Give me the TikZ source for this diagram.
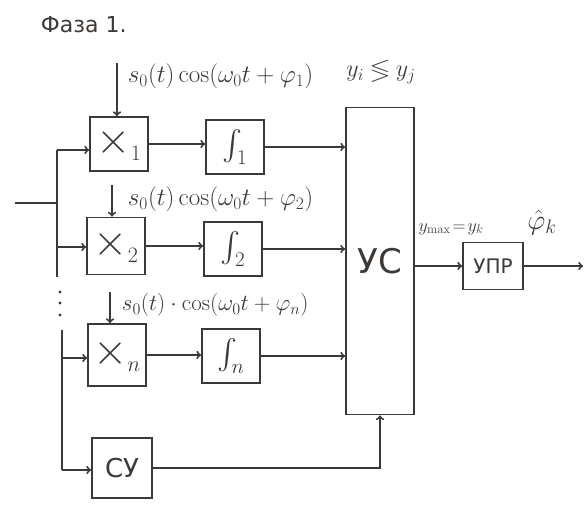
\RequirePackage{fix-cm}
\documentclass[tikz,border=0pt]{standalone}
\usepackage{amsmath,amssymb}
\usepackage[no-math]{fontspec}
\setmainfont{DejaVu Sans}
\usepackage{tikz}
\definecolor{SchemeInk}{HTML}{3D3936}
\definecolor{SchemePaper}{HTML}{FFFFFF}

\begin{document}
\begin{tikzpicture}[x=1pt,y=-1pt,SchemeInk,line width=1.9pt,
    block/.style={draw,inner sep=0pt,minimum width=58pt,minimum height=54pt,
      font=\fontsize{26}{28}\selectfont},
    sig/.style={->},
    lbl/.style={inner sep=0pt,font=\fontsize{25}{28}\selectfont}]
      \useasboundingbox[fill=SchemePaper] (0,0) rectangle (587,528);
      \node[lbl,anchor=west,font=\fontsize{22}{24}\selectfont] (phase) at (40,25) {Фаза 1.};
      % branches
      \node[block,font=\fontsize{44}{46}\selectfont] (mul1) at (119,144) {$\times_{\scriptscriptstyle 1}$};
      \node[block,minimum height=57pt,font=\fontsize{44}{46}\selectfont] (mul2) at (116,246) {$\times_{\scriptscriptstyle 2}$};
      \node[block,minimum height=62pt,font=\fontsize{44}{46}\selectfont] (muln) at (117,355) {$\times_{\scriptscriptstyle n}$};
      \node[block,font=\fontsize{30}{32}\selectfont] (int1) at (235,147) {$\int_1$};
      \node[block,font=\fontsize{30}{32}\selectfont] (int2) at (233,249) {$\int_2$};
      \node[block,font=\fontsize{30}{32}\selectfont] (intn) at (231,356) {$\int_n$};
      \node[block,minimum width=60pt,minimum height=60pt] (su) at (122,468) {СУ};
      \node[block,minimum width=68pt,minimum height=307pt,font=\fontsize{34}{38}\selectfont] (us) at (380,261) {УС};
      \node[block,minimum width=60pt,minimum height=47pt,font=\fontsize{20}{24}\selectfont] (upr) at (493,266) {УПР};
      % input bus
      \coordinate (in) at (15,203);
      \coordinate (busA) at (57,150);
      \coordinate (busB) at (57,277);
      \coordinate (tap2) at (57,247);
      \coordinate (busC) at (62,330);
      \coordinate (tapn) at (62,358);
      \coordinate (busD) at (62,470);
      \draw (in) -- (in -| busA);
      \draw (busA) -- (busB);
      \draw (busC) -- (busD);
      \foreach \y in {292,303,315}
        \fill (60,\y) circle (1.7pt);
      \draw[sig] (busA) -- (busA -| mul1.west);
      \draw[sig] (tap2) -- (tap2 -| mul2.west);
      \draw[sig] (tapn) -- (tapn -| muln.west);
      \draw[sig] (busD) -- (busD -| su.west);
      % reference signals
      \coordinate (ref1) at (117,63);
      \coordinate (ref2) at (112,185);
      \coordinate (refn) at (110,292);
      \draw[sig] (ref1) -- (ref1 |- mul1.north);
      \draw[sig] (ref2) -- (ref2 |- mul2.north);
      \draw[sig] (refn) -- (refn |- muln.north);
      \node[lbl,anchor=west] (ref1lbl) at (127,76) {$s_0(t)\cos(\omega_0t+\varphi_1)$};
      \node[lbl,anchor=west] (ref2lbl) at (127,199) {$s_0(t)\cos(\omega_0t+\varphi_2)$};
      \node[lbl,anchor=west,font=\fontsize{23}{26}\selectfont] (refnlbl) at (121,305) {$s_0(t)\cdot\cos(\omega_0t+\varphi_n)$};
      % to decision block
      \foreach \k in {1,2,n} {
        \draw[sig] (mul\k.east) -- (mul\k.east -| int\k.west);
        \draw[sig] (int\k.east) -- (int\k.east -| us.west);
      }
      \draw[sig] (su.east) -| (us.south);
      \node[lbl,font=\fontsize{24}{26}\selectfont] (rule) at (381,72) {$y_i\lessgtr y_j$};
      % output
      \coordinate (out) at (583,266);
      \draw[sig] (us.east |- upr.west) -- (upr.west);
      \draw[sig] (upr.east) -- (out);
      \node[lbl,font=\fontsize{18}{20}\selectfont] (ymax) at (451,229) {$y_{\max}\!=\!y_k$};
      \node[lbl,font=\fontsize{28}{30}\selectfont] (phik) at (542,222) {$\hat{\varphi}_k$};
\end{tikzpicture}
\end{document}
